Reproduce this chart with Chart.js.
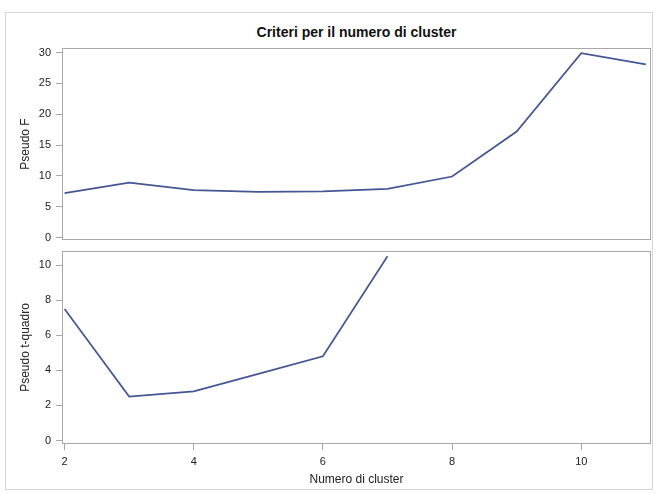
<!DOCTYPE html>
<html>
<head>
<meta charset="utf-8">
<title>Criteri per il numero di cluster</title>
<script src="https://cdn.jsdelivr.net/npm/chart.js@4.4.0/dist/chart.umd.min.js"></script>
<style>
    html, body { margin: 0; padding: 0; background: #fff; }
    #wrap { position: relative; width: 657px; height: 494px; overflow: hidden; font-family: "Liberation Sans", Arial, sans-serif; }
    #frame { position: absolute; left: 5px; top: 12px; width: 648px; height: 478px; border: 1px solid #d6d6d6; box-sizing: border-box; }
    #title { position: absolute; left: 62px; width: 589px; top: 22px; line-height: 20px; text-align: center; font-weight: bold; font-size: 14px; color: #111; }
    canvas { position: absolute; left: 0; }
    #topChart { top: 0; }
    #bottomChart { top: 239px; }
</style>
</head>
<body>
<div id="wrap">
    <div id="frame"></div>
    <div id="title">Criteri per il numero di cluster</div>
    <canvas id="topChart" width="657" height="260"></canvas>
    <canvas id="bottomChart" width="657" height="255"></canvas>
</div>
<script>
// valori
const clusters = [2, 3, 4, 5, 6, 7, 8, 9, 10, 11];
const pseudoF = [7.2, 8.9, 7.7, 7.4, 7.5, 7.9, 9.9, 17.2, 29.9, 28.1];
const pseudoT2 = [7.5, 2.5, 2.8, 3.8, 4.8, 10.5, null, null, null, null];

const xTicks = [2, 4, 6, 8, 10];
const fTicks = [0, 5, 10, 15, 20, 25, 30];
const t2Ticks = [0, 2, 4, 6, 8, 10];

const lineColor = '#445694';
const axisColor = '#a8a8a8';
const textColor = '#222';

Chart.defaults.font.family = '"Liberation Sans", Arial, sans-serif';

// cornice grigia attorno all'area del grafico
const panelBox = {
    id: 'panelBox',
    afterDraw(chart) {
        const { ctx, chartArea: a } = chart;
        ctx.save();
        ctx.strokeStyle = axisColor;
        ctx.lineWidth = 1;
        ctx.strokeRect(Math.round(a.left) + 0.5, Math.round(a.top) + 0.5,
            Math.round(a.right - a.left) - 1, Math.round(a.bottom - a.top) - 1);
        ctx.restore();
    }
};

function toPoints(values) {
    return clusters.map((c, i) => ({ x: c, y: values[i] }));
}

function yScale(min, max, ticks, label) {
    return {
        min, max,
        afterBuildTicks: s => { s.ticks = ticks.map(v => ({ value: v })); },
        afterFit: s => { s.width = 62; },
        grid: { drawOnChartArea: false, drawTicks: true, tickLength: 6, color: axisColor },
        border: { display: false },
        ticks: { padding: 5, color: textColor, font: { size: 11 } },
        title: { display: true, text: label, color: textColor, font: { size: 12 }, padding: { top: 18, bottom: 0 } },
    };
}

function xScale(showAxis) {
    return {
        type: 'linear',
        min: 1.96, max: 11.08,
        display: showAxis,
        afterBuildTicks: s => { s.ticks = xTicks.map(v => ({ value: v })); },
        afterFit: s => { if (showAxis) s.height = 50; },
        grid: { drawOnChartArea: false, tickLength: 6, color: axisColor },
        border: { display: false },
        ticks: { padding: 5, color: textColor, font: { size: 11 }, maxRotation: 0 },
        title: { display: true, text: 'Numero di cluster', color: textColor, font: { size: 12 }, padding: { top: 0, bottom: 7 } },
    };
}

function makeChart(id, values, y, showX, padding) {
    return new Chart(document.getElementById(id).getContext('2d'), {
        type: 'line',
        data: {
            datasets: [{
                data: toPoints(values),
                borderColor: lineColor,
                borderWidth: 1.7,
                pointRadius: 0,
                tension: 0,
                fill: false,
                spanGaps: false,
            }],
        },
        options: {
            responsive: false,
            animation: false,
            devicePixelRatio: 1,
            layout: { padding },
            plugins: { legend: { display: false }, tooltip: { enabled: false }, title: { display: false } },
            scales: { x: xScale(showX), y },
        },
        plugins: [panelBox],
    });
}

makeChart('topChart', pseudoF, yScale(-0.4, 30.75, fTicks, 'Pseudo F'), false,
    { top: 48, right: 6, bottom: 20, left: 0 });
makeChart('bottomChart', pseudoT2, yScale(-0.2, 10.8, t2Ticks, 'Pseudo t-quadro'), true,
    { top: 12, right: 6, bottom: 0, left: 0 });
</script>
</body>
</html>
